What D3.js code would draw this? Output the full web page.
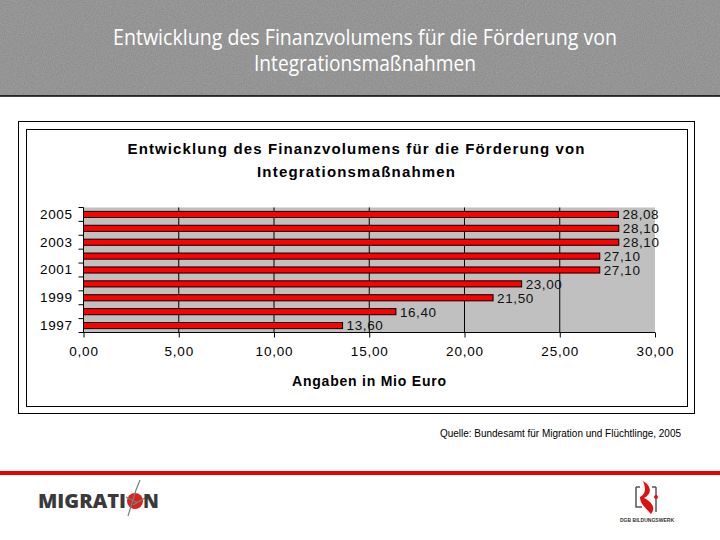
<!DOCTYPE html>
<html>
<head>
<meta charset="utf-8">
<script src="https://cdn.jsdelivr.net/npm/d3@7"></script>
<style>
  body { margin: 0; background: #fff; }
  svg { display: block; }
</style>
</head>
<body>
<div id="chart"></div>
<script>
// data
var years = ["1997", "1998", "1999", "2000", "2001", "2002", "2003", "2004", "2005"];
var values = [13.60, 16.40, 21.50, 23.00, 27.10, 27.10, 28.10, 28.10, 28.08];
var xTicks = [0, 5, 10, 15, 20, 25, 30];
var yLabels = ["1997", "1999", "2001", "2003", "2005"];

var headTitle = ["Entwicklung des Finanzvolumens für die Förderung von", "Integrationsmaßnahmen"];
var chartTitle = ["Entwicklung des Finanzvolumens für die Förderung von", "Integrationsmaßnahmen"];
var axisTitle = "Angaben in Mio Euro";
var source = "Quelle: Bundesamt für Migration und Flüchtlinge, 2005";

var W = 720, H = 540;
var comma = function (v) { return d3.format(".2f")(v).replace(".", ","); };

var svg = d3.select("#chart").append("svg")
    .attr("width", W)
    .attr("height", H);

// grainy grey header
var defs = svg.append("defs");
var f = defs.append("filter").attr("id", "grain").attr("x", 0).attr("y", 0).attr("width", "100%").attr("height", "100%");
f.append("feTurbulence").attr("type", "fractalNoise").attr("baseFrequency", 0.9).attr("numOctaves", 2).attr("seed", 3).attr("result", "noise");
f.append("feColorMatrix").attr("in", "noise").attr("type", "matrix")
    .attr("values", "0 0 0 0 0.56  0 0 0 0 0.56  0 0 0 0 0.56  0.9 0 0 0 -0.25");
f.append("feComposite").attr("in2", "SourceGraphic").attr("operator", "in");

svg.append("rect").attr("x", 0).attr("y", 0).attr("width", W).attr("height", 96).attr("fill", "#8e8e8e");
svg.append("rect").attr("x", 0).attr("y", 0).attr("width", W).attr("height", 96).attr("fill", "#8e8e8e").attr("filter", "url(#grain)").attr("opacity", 0.6);
svg.append("line").attr("x1", 0).attr("x2", W).attr("y1", 96).attr("y2", 96).attr("stroke", "#000").attr("stroke-width", 1.5);

var headLens = [504, 222];
svg.selectAll(".head").data(headTitle).enter().append("text")
    .attr("class", "head")
    .attr("x", 365)
    .attr("y", function (d, i) { return 45 + i * 26; })
    .attr("text-anchor", "middle")
    .attr("textLength", function (d, i) { return headLens[i]; })
    .attr("lengthAdjust", "spacingAndGlyphs")
    .style("font-family", "'Open Sans', 'Noto Sans', sans-serif")
    .style("font-size", "21px")
    .style("fill", "#fff")
    .text(function (d) { return d; });

// chart frame (double border)
svg.append("rect").attr("x", 18.5).attr("y", 121.5).attr("width", 676).attr("height", 292)
    .attr("fill", "#fff").attr("stroke", "#000");
svg.append("rect").attr("x", 26.5).attr("y", 129.5).attr("width", 661).attr("height", 277)
    .attr("fill", "#fff").attr("stroke", "#000");

var titleLens = [457, 198];
svg.selectAll(".ctitle").data(chartTitle).enter().append("text")
    .attr("class", "ctitle")
    .attr("x", 356)
    .attr("y", function (d, i) { return 154 + i * 23; })
    .attr("text-anchor", "middle")
    .attr("textLength", function (d, i) { return titleLens[i]; })
    .attr("lengthAdjust", "spacing")
    .style("font-family", "'Liberation Sans', Arial, sans-serif")
    .style("font-size", "15px")
    .style("font-weight", "bold")
    .style("fill", "#000")
    .text(function (d) { return d; });

// plot area
var plot = { left: 83.5, right: 655, top: 207.5, bottom: 332.5 };

var x = d3.scaleLinear().domain([0, 30]).range([plot.left, plot.right]);
var y = d3.scaleBand().domain(years.slice().reverse()).range([plot.top, plot.bottom]).paddingInner(0.56).paddingOuter(0.28);

var g = svg.append("g");

g.append("rect")
    .attr("x", plot.left).attr("y", plot.top)
    .attr("width", plot.right - plot.left).attr("height", plot.bottom - plot.top)
    .attr("fill", "#c0c0c0");

// vertical gridlines
g.selectAll(".grid").data(xTicks.slice(1, -1)).enter().append("line")
    .attr("x1", function (d) { return x(d); })
    .attr("x2", function (d) { return x(d); })
    .attr("y1", plot.top)
    .attr("y2", plot.bottom)
    .attr("stroke", "#000")
    .attr("stroke-width", 1);

// bars
g.selectAll(".bar").data(values).enter().append("rect")
    .attr("class", "bar")
    .attr("x", x(0))
    .attr("y", function (d, i) { return y(years[i]); })
    .attr("width", function (d) { return x(d) - x(0); })
    .attr("height", y.bandwidth())
    .attr("fill", "#ff0000")
    .attr("stroke", "#000")
    .attr("stroke-width", 1);

// value labels
g.selectAll(".val").data(values).enter().append("text")
    .attr("x", function (d) { return x(d) + 4; })
    .attr("y", function (d, i) { return y(years[i]) + y.bandwidth() / 2; })
    .attr("dy", "0.36em")
    .style("font-family", "'Liberation Sans', Arial, sans-serif")
    .style("font-size", "13.5px")
    .style("letter-spacing", "0.6px")
    .style("fill", "#111")
    .text(function (d) { return comma(d); });

// x axis
var xAxis = d3.axisBottom(x).tickValues(xTicks).tickSize(5).tickPadding(9).tickFormat(comma);
var xa = g.append("g").attr("transform", "translate(0," + plot.bottom + ")").call(xAxis);
xa.select(".domain").attr("stroke", "#000").attr("d", "M" + plot.left + ",0H" + plot.right);
xa.selectAll("text")
    .style("font-family", "'Liberation Sans', Arial, sans-serif")
    .style("font-size", "13.5px")
    .style("letter-spacing", "0.8px")
    .style("fill", "#000");

// y axis: labels on odd years, ticks at band edges
var yAxis = d3.axisLeft(y).tickSize(0).tickPadding(11)
    .tickFormat(function (d) { return yLabels.indexOf(d) >= 0 ? d : ""; });
var ya = g.append("g").attr("transform", "translate(" + plot.left + ",0)").call(yAxis);
ya.select(".domain").attr("stroke", "#000").attr("d", "M0," + plot.top + "V" + plot.bottom);
ya.selectAll("text")
    .style("font-family", "'Liberation Sans', Arial, sans-serif")
    .style("font-size", "13.5px")
    .style("letter-spacing", "0.6px")
    .style("fill", "#000");

var step = y.step();
var edges = years.map(function (d) { return y(d) - y.paddingInner() * step / 2; });
edges.push(plot.bottom);
ya.selectAll(".edge").data(edges).enter().append("line")
    .attr("x1", -5).attr("x2", 0)
    .attr("y1", function (d) { return d; })
    .attr("y2", function (d) { return d; })
    .attr("stroke", "#000");

svg.append("text")
    .attr("x", 369)
    .attr("y", 386)
    .attr("text-anchor", "middle")
    .attr("textLength", 154)
    .attr("lengthAdjust", "spacing")
    .style("font-family", "'Liberation Sans', Arial, sans-serif")
    .style("font-size", "14px")
    .style("font-weight", "bold")
    .text(axisTitle);

svg.append("text")
    .attr("x", 681)
    .attr("y", 437)
    .attr("text-anchor", "end")
    .attr("textLength", 241)
    .attr("lengthAdjust", "spacingAndGlyphs")
    .style("font-family", "'Liberation Sans', Arial, sans-serif")
    .style("font-size", "10px")
    .style("fill", "#000")
    .text(source);

// footer
svg.append("rect").attr("x", 0).attr("y", 471).attr("width", W).attr("height", 4).attr("fill", "#ee0000");

// MIGRATION logo
var logo = svg.append("g");
logo.append("text")
    .attr("x", 38).attr("y", 508)
    .attr("textLength", 88)
    .attr("lengthAdjust", "spacingAndGlyphs")
    .style("font-family", "'Open Sans', sans-serif")
    .style("font-weight", "800")
    .style("font-size", "19px")
    .style("fill", "#3a3a3a")
    .text("MIGRATI");
logo.append("circle").attr("cx", 135).attr("cy", 501).attr("r", 8).attr("fill", "#e02020");
logo.append("path").attr("d", "M128,516 L136,490 L140,480 M133,505 L145,498 M126,497 L138,503")
    .attr("fill", "none").attr("stroke", "#6a8a7a").attr("stroke-width", 1.2);
logo.append("text")
    .attr("x", 143).attr("y", 508)
    .style("font-family", "'Open Sans', sans-serif")
    .style("font-weight", "800")
    .style("font-size", "19px")
    .style("fill", "#3a3a3a")
    .text("N");

// DGB Bildungswerk logo
var dgb = svg.append("g");
dgb.append("path").attr("d", "M636,487 V507 H642 M636,487 H640 M656,487 V512 M652,487 H656")
    .attr("fill", "none").attr("stroke", "#555").attr("stroke-width", 1.5);
dgb.append("path").attr("d", "M643,481 C652,486 652,494 644,498 C652,502 656,508 651,514 C646,508 640,504 640,497 C646,494 646,488 643,481 Z")
    .attr("fill", "#e01010");
dgb.append("circle").attr("cx", 656).attr("cy", 497).attr("r", 2).attr("fill", "#e01010");
dgb.append("text")
    .attr("x", 647).attr("y", 522)
    .attr("text-anchor", "middle")
    .attr("textLength", 54)
    .attr("lengthAdjust", "spacingAndGlyphs")
    .style("font-family", "'Liberation Sans', Arial, sans-serif")
    .style("font-size", "6px")
    .style("font-weight", "bold")
    .style("fill", "#333")
    .text("DGB BILDUNGSWERK");
</script>
</body>
</html>
